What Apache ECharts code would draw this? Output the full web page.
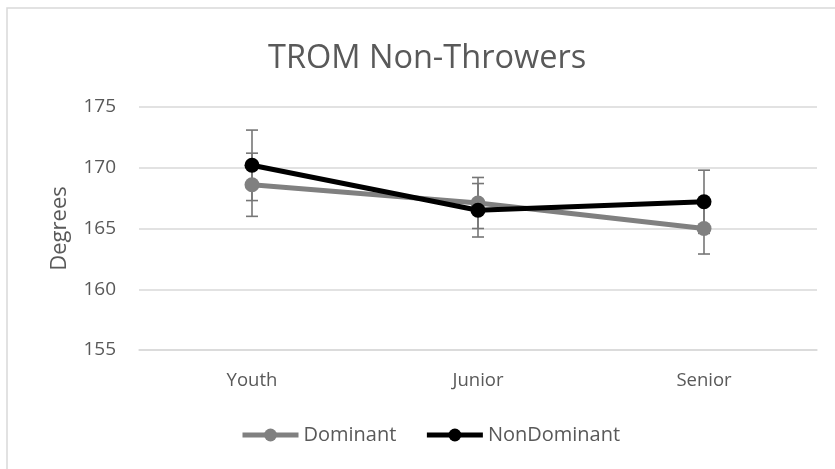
<!DOCTYPE html>
<html>
<head>
<meta charset="utf-8">
<script src="https://cdn.jsdelivr.net/npm/echarts@6/dist/echarts.min.js"></script>
<style>
  html, body { margin: 0; padding: 0; background: #fff; }
  #chart { width: 835px; height: 469px; }
</style>
</head>
<body>
<div id="chart"></div>
<script>
  // data
  var categories = ['Youth', 'Junior', 'Senior'];
  var dominant = [168.6, 167.1, 165.0];
  var nonDominant = [170.2, 166.5, 167.2];
  var dominantErr = [2.6, 2.1, 2.1];
  var nonDominantErr = [2.9, 2.2, 2.6];

  var textColor = '#595959';
  var font = '"Open Sans", "Liberation Sans", sans-serif';

  function errorData(vals, errs) {
    return vals.map(function (v, i) { return [i, v - errs[i], v + errs[i]]; });
  }

  function renderErr(params, api) {
    var lo = api.coord([api.value(0), api.value(1)]);
    var hi = api.coord([api.value(0), api.value(2)]);
    var w = 6;
    var style = { stroke: '#767676', lineWidth: 1.6 };
    return {
      type: 'group',
      children: [
        { type: 'line', shape: { x1: lo[0], y1: lo[1], x2: hi[0], y2: hi[1] }, style: style },
        { type: 'line', shape: { x1: lo[0] - w, y1: lo[1], x2: lo[0] + w, y2: lo[1] }, style: style },
        { type: 'line', shape: { x1: hi[0] - w, y1: hi[1], x2: hi[0] + w, y2: hi[1] }, style: style }
      ]
    };
  }

  var chart = echarts.init(document.getElementById('chart'));
  chart.setOption({
    animation: false,
    backgroundColor: '#fff',
    graphic: [{
      type: 'rect',
      shape: { x: 7, y: 8, width: 900, height: 500 },
      style: { fill: 'none', stroke: '#d9d9d9', lineWidth: 1.5 },
      silent: true
    }],
    title: {
      text: 'TROM Non-Throwers',
      left: 268,
      top: 42,
      padding: 0,
      textStyle: { color: textColor, fontFamily: font, fontSize: 32.5, fontWeight: 'normal' }
    },
    legend: {
      data: ['Dominant', 'NonDominant'],
      top: 425,
      left: 240,
      padding: 0,
      itemWidth: 56,
      itemHeight: 16,
      itemGap: 28,
      lineStyle: { width: 5 },
      textStyle: { color: textColor, fontFamily: font, fontSize: 20 }
    },
    grid: { left: 139, right: 18, top: 107, bottom: 119 },
    xAxis: {
      type: 'category',
      data: categories,
      axisLine: { lineStyle: { color: '#d9d9d9', width: 1.5 } },
      axisTick: { show: false },
      axisLabel: { color: textColor, fontFamily: font, fontSize: 18.5, margin: 21 }
    },
    yAxis: {
      type: 'value',
      min: 155,
      max: 175,
      interval: 5,
      name: 'Degrees',
      nameLocation: 'middle',
      nameGap: 68,
      nameTextStyle: { color: textColor, fontFamily: font, fontSize: 22 },
      axisLine: { show: false },
      axisTick: { show: false },
      axisLabel: { color: textColor, fontFamily: font, fontSize: 19, margin: 23 },
      splitLine: { lineStyle: { color: '#d9d9d9', width: 1.5 } }
    },
    series: [
      {
        name: 'DominantErr',
        type: 'custom',
        renderItem: renderErr,
        data: errorData(dominant, dominantErr),
        z: 1
      },
      {
        name: 'NonDominantErr',
        type: 'custom',
        renderItem: renderErr,
        data: errorData(nonDominant, nonDominantErr),
        z: 1
      },
      {
        name: 'Dominant',
        type: 'line',
        data: dominant,
        color: '#808080',
        lineStyle: { width: 5, color: '#808080' },
        symbol: 'circle',
        symbolSize: 15,
        itemStyle: { color: '#808080' },
        z: 3
      },
      {
        name: 'NonDominant',
        type: 'line',
        data: nonDominant,
        color: '#000000',
        lineStyle: { width: 5, color: '#000000' },
        symbol: 'circle',
        symbolSize: 15,
        itemStyle: { color: '#000000' },
        z: 4
      }
    ]
  });
</script>
</body>
</html>
